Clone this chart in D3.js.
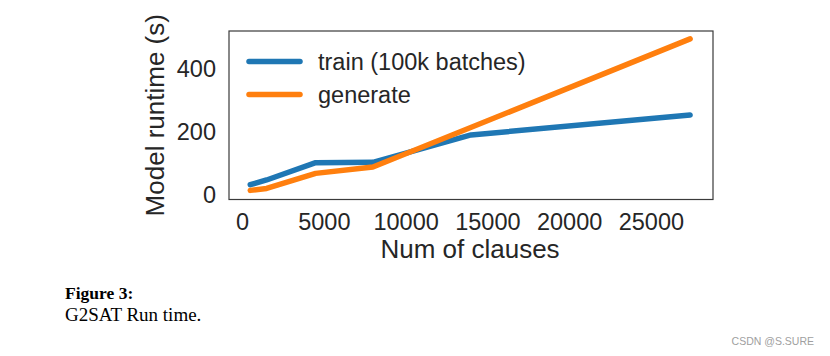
<!DOCTYPE html>
<html>
<head>
<meta charset="utf-8">
<script src="https://cdn.jsdelivr.net/npm/d3@7"></script>
<style>
  html, body { margin: 0; padding: 0; background: #fff; }
  svg { display: block; }
</style>
</head>
<body>
<svg id="chart" width="830" height="356"></svg>
<script>
// ---- data ----
const trainX = [500, 1500, 4500, 8000, 14000, 27400];
const trainY = [30, 45, 100, 101, 188, 251];
const genX = [500, 1500, 4500, 8000, 27400];
const genY = [12, 18, 66, 86, 493];
const seriesNames = ["train (100k batches)", "generate"];
const xTicks = [0, 5000, 10000, 15000, 20000, 25000];
const yTicks = [0, 200, 400];
const xLabel = "Num of clauses";
const yLabel = "Model runtime (s)";
const captionTitle = "Figure 3:";
const captionText = "G2SAT Run time.";
const watermark = "CSDN @S.SURE";

const colors = ["#1f77b4", "#ff7f0e"];
const font = "'Liberation Sans', Arial, Helvetica, sans-serif";
const textColor = "#262626";

const svg = d3.select("#chart");
const pLeft = 229, pRight = 713, pTop = 31, pBottom = 199.5;

const x = d3.scaleLinear().domain([-800, 28800]).range([pLeft, pRight]);
const y = d3.scaleLinear().domain([-17, 518]).range([pBottom, pTop]);

// frame
svg.append("rect")
  .attr("x", pLeft).attr("y", pTop)
  .attr("width", pRight - pLeft).attr("height", pBottom - pTop)
  .attr("fill", "none").attr("stroke", "#3a3a3a").attr("stroke-width", 1.2);

// axes (no tick marks, seaborn white style)
const xAxis = d3.axisBottom(x).tickValues(xTicks).tickSize(0).tickPadding(0).tickFormat(d3.format("d"));
const gx = svg.append("g").attr("transform", `translate(0,${pBottom})`).call(xAxis);
gx.select(".domain").remove();
gx.selectAll("text")
  .attr("y", 30.5).attr("dy", null)
  .attr("font-family", font).attr("font-size", 23.5).attr("fill", textColor);

const yAxis = d3.axisLeft(y).tickValues(yTicks).tickSize(0).tickPadding(0).tickFormat(d3.format("d"));
const gy = svg.append("g").attr("transform", `translate(${pLeft},0)`).call(yAxis);
gy.select(".domain").remove();
gy.selectAll("text")
  .attr("x", -13).attr("dy", "0.36em")
  .attr("font-family", font).attr("font-size", 23.5).attr("fill", textColor);

// axis labels
svg.append("text")
  .attr("x", (pLeft + pRight) / 2 - 1).attr("y", 258)
  .attr("text-anchor", "middle")
  .attr("font-family", font).attr("font-size", 26).attr("fill", textColor)
  .text(xLabel);

svg.append("text")
  .attr("transform", `translate(164,${(pTop + pBottom) / 2}) rotate(-90)`)
  .attr("text-anchor", "middle")
  .attr("font-family", font).attr("font-size", 26).attr("fill", textColor)
  .text(yLabel);

// lines
svg.append("clipPath").attr("id", "clip")
  .append("rect").attr("x", pLeft).attr("y", pTop).attr("width", pRight - pLeft).attr("height", pBottom - pTop);

const line = d3.line().x(d => x(d[0])).y(d => y(d[1]));
const trainData = trainX.map((v, i) => [v, trainY[i]]);
const genData = genX.map((v, i) => [v, genY[i]]);

[trainData, genData].forEach((data, i) => {
  svg.append("path")
    .datum(data)
    .attr("d", line)
    .attr("fill", "none")
    .attr("stroke", colors[i])
    .attr("stroke-width", 5.5)
    .attr("stroke-linecap", "round")
    .attr("stroke-linejoin", "round")
    .attr("clip-path", "url(#clip)");
});

// legend
const legend = svg.append("g");
const legendY = [61.5, 94.5];
seriesNames.forEach((name, i) => {
  legend.append("line")
    .attr("x1", 249).attr("x2", 300)
    .attr("y1", legendY[i]).attr("y2", legendY[i])
    .attr("stroke", colors[i]).attr("stroke-width", 5.5).attr("stroke-linecap", "round");
  legend.append("text")
    .attr("x", 318).attr("y", legendY[i] + 8.5)
    .attr("font-family", font).attr("font-size", 23.5).attr("fill", textColor)
    .text(name);
});

// caption
const serif = "'Liberation Serif', 'Times New Roman', Times, serif";
svg.append("text")
  .attr("x", 65).attr("y", 298.5)
  .attr("font-family", serif).attr("font-weight", "bold").attr("font-size", 17.5).attr("fill", "#000")
  .text(captionTitle);
svg.append("text")
  .attr("x", 65).attr("y", 320.5)
  .attr("font-family", serif).attr("font-size", 19).attr("fill", "#000")
  .text(captionText);

// watermark
svg.append("text")
  .attr("x", 814).attr("y", 345)
  .attr("text-anchor", "end")
  .attr("font-family", font).attr("font-size", 10.5).attr("fill", "#a0a0a0")
  .text(watermark);
</script>
</body>
</html>
